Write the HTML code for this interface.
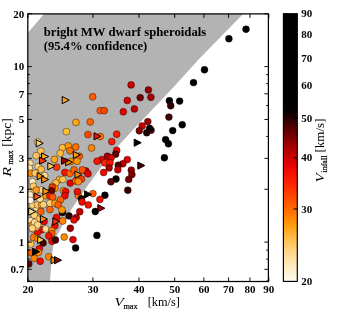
<!DOCTYPE html><html><head><meta charset="utf-8"><style>html,body{margin:0;padding:0;background:#fff;overflow:hidden}svg{display:block;will-change:transform;opacity:0.9999}text{font-family:"Liberation Serif",serif}</style></head><body>
<svg width="361" height="315" viewBox="0 0 361 315">
<rect width="361" height="315" fill="#fff"/>
<path d="M28.0,281.5 L28.0,32.7 L44.0,14.0 L243.0,14.0 L198.1,60.0 L173.2,87.4 L150.0,112.0 L131.2,131.7 L119.5,144.6 L113.1,152.4 L100.0,168.7 L92.5,179.0 L88.0,185.0 L80.0,196.8 L71.7,208.7 L66.8,217.5 L60.0,230.0 L56.5,236.0 L54.0,241.0 L52.1,254.0 L51.0,268.0 L50.0,281.5 Z" fill="#b3b3b3"/>
<clipPath id="cp"><rect x="27.8" y="13.9" width="240.59999999999997" height="267.6"/></clipPath><g clip-path="url(#cp)">
<circle cx="246" cy="29.2" r="3.45" fill="#000000" stroke="#000" stroke-width="0.4"/>
<circle cx="228.9" cy="38.7" r="3.45" fill="#000000" stroke="#000" stroke-width="0.4"/>
<circle cx="204.5" cy="69.8" r="3.45" fill="#000000" stroke="#000" stroke-width="0.4"/>
<circle cx="193.5" cy="82.6" r="3.45" fill="#000000" stroke="#000" stroke-width="0.4"/>
<circle cx="179.6" cy="101.1" r="3.45" fill="#000000" stroke="#000" stroke-width="0.4"/>
<circle cx="169.4" cy="100.8" r="3.45" fill="#000000" stroke="#000" stroke-width="0.4"/>
<circle cx="170.7" cy="105.8" r="3.45" fill="#320000" stroke="#000" stroke-width="0.4"/>
<circle cx="168.9" cy="117.1" r="3.45" fill="#3c0000" stroke="#000" stroke-width="0.4"/>
<circle cx="182.2" cy="124.7" r="3.45" fill="#000000" stroke="#000" stroke-width="0.4"/>
<circle cx="172.7" cy="130.6" r="3.45" fill="#000000" stroke="#000" stroke-width="0.4"/>
<circle cx="165.6" cy="139.6" r="3.45" fill="#000000" stroke="#000" stroke-width="0.4"/>
<circle cx="168.4" cy="143.8" r="3.45" fill="#000000" stroke="#000" stroke-width="0.4"/>
<circle cx="164.4" cy="157.8" r="3.45" fill="#000000" stroke="#000" stroke-width="0.4"/>
<circle cx="131.1" cy="84.9" r="3.45" fill="#c80000" stroke="#000" stroke-width="0.4"/>
<circle cx="148.4" cy="90" r="3.45" fill="#960000" stroke="#000" stroke-width="0.4"/>
<circle cx="140.2" cy="97.6" r="3.45" fill="#6e0000" stroke="#000" stroke-width="0.4"/>
<circle cx="150.9" cy="97.3" r="3.45" fill="#aa0000" stroke="#000" stroke-width="0.4"/>
<circle cx="127.3" cy="100.4" r="3.45" fill="#d70000" stroke="#000" stroke-width="0.4"/>
<circle cx="134.4" cy="108.9" r="3.45" fill="#be0000" stroke="#000" stroke-width="0.4"/>
<circle cx="123.3" cy="111.8" r="3.45" fill="#eb0000" stroke="#000" stroke-width="0.4"/>
<circle cx="147.8" cy="121.6" r="3.45" fill="#960000" stroke="#000" stroke-width="0.4"/>
<circle cx="142.2" cy="126" r="3.45" fill="#c80000" stroke="#000" stroke-width="0.4"/>
<circle cx="139.3" cy="130.8" r="3.45" fill="#820000" stroke="#000" stroke-width="0.4"/>
<circle cx="151.1" cy="130.2" r="3.45" fill="#640000" stroke="#000" stroke-width="0.4"/>
<circle cx="149.6" cy="128.4" r="3.45" fill="#000000" stroke="#000" stroke-width="0.4"/>
<circle cx="146.7" cy="132.7" r="3.45" fill="#1e0000" stroke="#000" stroke-width="0.4"/>
<circle cx="116.7" cy="134.2" r="3.45" fill="#f51e00" stroke="#000" stroke-width="0.4"/>
<circle cx="111.8" cy="141.6" r="3.45" fill="#fa1e00" stroke="#000" stroke-width="0.4"/>
<circle cx="116.7" cy="150.4" r="3.45" fill="#eb0a00" stroke="#000" stroke-width="0.4"/>
<circle cx="115.6" cy="154.2" r="3.45" fill="#5a0000" stroke="#000" stroke-width="0.4"/>
<circle cx="107.4" cy="156.2" r="3.45" fill="#aa0000" stroke="#000" stroke-width="0.4"/>
<circle cx="111.1" cy="157.8" r="3.45" fill="#dc0000" stroke="#000" stroke-width="0.4"/>
<circle cx="127.3" cy="159.6" r="3.45" fill="#e10000" stroke="#000" stroke-width="0.4"/>
<circle cx="101.6" cy="159.6" r="3.45" fill="#e10000" stroke="#000" stroke-width="0.4"/>
<circle cx="97.1" cy="161.2" r="3.45" fill="#fa1400" stroke="#000" stroke-width="0.4"/>
<circle cx="104.9" cy="162.9" r="3.45" fill="#fa2800" stroke="#000" stroke-width="0.4"/>
<circle cx="110" cy="162.9" r="3.45" fill="#fa1400" stroke="#000" stroke-width="0.4"/>
<circle cx="122.9" cy="163.8" r="3.45" fill="#be0000" stroke="#000" stroke-width="0.4"/>
<circle cx="118.3" cy="165.2" r="3.45" fill="#500000" stroke="#000" stroke-width="0.4"/>
<circle cx="109.1" cy="167.9" r="3.45" fill="#aa0000" stroke="#000" stroke-width="0.4"/>
<circle cx="117.8" cy="169.8" r="3.45" fill="#c80000" stroke="#000" stroke-width="0.4"/>
<circle cx="131.3" cy="170.2" r="3.45" fill="#960000" stroke="#000" stroke-width="0.4"/>
<circle cx="131.9" cy="174.6" r="3.45" fill="#820000" stroke="#000" stroke-width="0.4"/>
<circle cx="103.6" cy="172.5" r="3.45" fill="#f00a00" stroke="#000" stroke-width="0.4"/>
<circle cx="116" cy="179" r="3.45" fill="#000000" stroke="#000" stroke-width="0.4"/>
<circle cx="128.7" cy="179.4" r="3.45" fill="#780000" stroke="#000" stroke-width="0.4"/>
<circle cx="110.9" cy="181.8" r="3.45" fill="#5a0000" stroke="#000" stroke-width="0.4"/>
<circle cx="127.8" cy="190.2" r="3.45" fill="#3c0000" stroke="#000" stroke-width="0.4"/>
<circle cx="88" cy="134.6" r="3.45" fill="#ff4600" stroke="#000" stroke-width="0.4"/>
<circle cx="100.2" cy="136.5" r="3.45" fill="#ff6e00" stroke="#000" stroke-width="0.4"/>
<circle cx="91.6" cy="147.9" r="3.45" fill="#ff8200" stroke="#000" stroke-width="0.4"/>
<circle cx="85.8" cy="170.9" r="3.45" fill="#be0000" stroke="#000" stroke-width="0.4"/>
<circle cx="88" cy="173.7" r="3.45" fill="#e60000" stroke="#000" stroke-width="0.4"/>
<circle cx="92.7" cy="96.8" r="3.45" fill="#ff5a00" stroke="#000" stroke-width="0.4"/>
<circle cx="100.2" cy="110.6" r="3.45" fill="#ff5500" stroke="#000" stroke-width="0.4"/>
<circle cx="104.2" cy="110.6" r="3.45" fill="#fa4600" stroke="#000" stroke-width="0.4"/>
<circle cx="75.9" cy="122.4" r="3.45" fill="#ffa514" stroke="#000" stroke-width="0.4"/>
<circle cx="90.2" cy="121.9" r="3.45" fill="#ff6400" stroke="#000" stroke-width="0.4"/>
<circle cx="66.4" cy="131.6" r="3.45" fill="#ffbe32" stroke="#000" stroke-width="0.4"/>
<circle cx="37.5" cy="141.8" r="3.45" fill="#ffd680" stroke="#000" stroke-width="0.4"/>
<circle cx="40.9" cy="151.1" r="3.45" fill="#ffc350" stroke="#000" stroke-width="0.4"/>
<circle cx="36.2" cy="155.7" r="3.45" fill="#ffc85a" stroke="#000" stroke-width="0.4"/>
<circle cx="30" cy="163.2" r="3.45" fill="#ffdb94" stroke="#000" stroke-width="0.4"/>
<circle cx="29.2" cy="168.2" r="3.45" fill="#ffe5b2" stroke="#000" stroke-width="0.4"/>
<circle cx="38.3" cy="166.6" r="3.45" fill="#ffd680" stroke="#000" stroke-width="0.4"/>
<circle cx="41.1" cy="169.4" r="3.45" fill="#ffbe46" stroke="#000" stroke-width="0.4"/>
<circle cx="56.6" cy="167.1" r="3.45" fill="#ff3200" stroke="#000" stroke-width="0.4"/>
<circle cx="54.4" cy="159.4" r="3.45" fill="#ffa514" stroke="#000" stroke-width="0.4"/>
<circle cx="62.4" cy="147.6" r="3.45" fill="#ffb93c" stroke="#000" stroke-width="0.4"/>
<circle cx="68.3" cy="145.9" r="3.45" fill="#ff9600" stroke="#000" stroke-width="0.4"/>
<circle cx="75.7" cy="147" r="3.45" fill="#ff6e00" stroke="#000" stroke-width="0.4"/>
<circle cx="69.9" cy="150.8" r="3.45" fill="#ff6e00" stroke="#000" stroke-width="0.4"/>
<circle cx="60.2" cy="153.3" r="3.45" fill="#ffbe3c" stroke="#000" stroke-width="0.4"/>
<circle cx="79.2" cy="156.2" r="3.45" fill="#ff5a00" stroke="#000" stroke-width="0.4"/>
<circle cx="70.7" cy="161.6" r="3.45" fill="#ff9600" stroke="#000" stroke-width="0.4"/>
<circle cx="77" cy="161.2" r="3.45" fill="#ff9600" stroke="#000" stroke-width="0.4"/>
<circle cx="30.8" cy="173.2" r="3.45" fill="#ff8c00" stroke="#000" stroke-width="0.4"/>
<circle cx="35.3" cy="173.2" r="3.45" fill="#ffc864" stroke="#000" stroke-width="0.4"/>
<circle cx="44.6" cy="175.7" r="3.45" fill="#ffdb94" stroke="#000" stroke-width="0.4"/>
<circle cx="32.5" cy="181.8" r="3.45" fill="#ffeabc" stroke="#000" stroke-width="0.4"/>
<circle cx="33.3" cy="186.2" r="3.45" fill="#ffc864" stroke="#000" stroke-width="0.4"/>
<circle cx="64.9" cy="172.4" r="3.45" fill="#fa1400" stroke="#000" stroke-width="0.4"/>
<circle cx="69.9" cy="173.5" r="3.45" fill="#ff6400" stroke="#000" stroke-width="0.4"/>
<circle cx="74" cy="169.9" r="3.45" fill="#ff6400" stroke="#000" stroke-width="0.4"/>
<circle cx="82.3" cy="169.9" r="3.45" fill="#ff5000" stroke="#000" stroke-width="0.4"/>
<circle cx="59.4" cy="179.5" r="3.45" fill="#ffaa28" stroke="#000" stroke-width="0.4"/>
<circle cx="62.9" cy="179.5" r="3.45" fill="#ffc350" stroke="#000" stroke-width="0.4"/>
<circle cx="55.7" cy="183" r="3.45" fill="#ffbe46" stroke="#000" stroke-width="0.4"/>
<circle cx="70.3" cy="183.1" r="3.45" fill="#e10000" stroke="#000" stroke-width="0.4"/>
<circle cx="75.7" cy="180.9" r="3.45" fill="#ff5a00" stroke="#000" stroke-width="0.4"/>
<circle cx="81.5" cy="179" r="3.45" fill="#fa3c00" stroke="#000" stroke-width="0.4"/>
<circle cx="52.4" cy="186.5" r="3.45" fill="#ff8c00" stroke="#000" stroke-width="0.4"/>
<circle cx="78.3" cy="181.6" r="3.45" fill="#ff8c00" stroke="#000" stroke-width="0.4"/>
<circle cx="54.9" cy="188.3" r="3.45" fill="#ff9600" stroke="#000" stroke-width="0.4"/>
<circle cx="52.4" cy="187.5" r="3.45" fill="#fa3c00" stroke="#000" stroke-width="0.4"/>
<circle cx="51.6" cy="190.8" r="3.45" fill="#6e0000" stroke="#000" stroke-width="0.4"/>
<circle cx="63.5" cy="190.8" r="3.45" fill="#ff8c00" stroke="#000" stroke-width="0.4"/>
<circle cx="65.7" cy="191.6" r="3.45" fill="#f00a00" stroke="#000" stroke-width="0.4"/>
<circle cx="64.9" cy="195.8" r="3.45" fill="#eb0a00" stroke="#000" stroke-width="0.4"/>
<circle cx="78.2" cy="195.3" r="3.45" fill="#ff7800" stroke="#000" stroke-width="0.4"/>
<circle cx="77.4" cy="191.6" r="3.45" fill="#f00f00" stroke="#000" stroke-width="0.4"/>
<circle cx="81.4" cy="198.8" r="3.45" fill="#140000" stroke="#000" stroke-width="0.4"/>
<circle cx="82" cy="202" r="3.45" fill="#f00a00" stroke="#000" stroke-width="0.4"/>
<circle cx="30.8" cy="192.5" r="3.45" fill="#ffe09e" stroke="#000" stroke-width="0.4"/>
<circle cx="35" cy="191.6" r="3.45" fill="#ffdb94" stroke="#000" stroke-width="0.4"/>
<circle cx="41.6" cy="190" r="3.45" fill="#ffdb94" stroke="#000" stroke-width="0.4"/>
<circle cx="45.8" cy="195.8" r="3.45" fill="#ff9600" stroke="#000" stroke-width="0.4"/>
<circle cx="49.9" cy="196.1" r="3.45" fill="#f51e00" stroke="#000" stroke-width="0.4"/>
<circle cx="52.7" cy="197.1" r="3.45" fill="#ff5a00" stroke="#000" stroke-width="0.4"/>
<circle cx="60.4" cy="199.9" r="3.45" fill="#ff6400" stroke="#000" stroke-width="0.4"/>
<circle cx="49.9" cy="203.3" r="3.45" fill="#ffd176" stroke="#000" stroke-width="0.4"/>
<circle cx="54.9" cy="203.3" r="3.45" fill="#ff9614" stroke="#000" stroke-width="0.4"/>
<circle cx="58.2" cy="204.9" r="3.45" fill="#ff5a00" stroke="#000" stroke-width="0.4"/>
<circle cx="36.2" cy="207.5" r="3.45" fill="#ffe5b2" stroke="#000" stroke-width="0.4"/>
<circle cx="32.5" cy="204.9" r="3.45" fill="#ffd278" stroke="#000" stroke-width="0.4"/>
<circle cx="37.5" cy="204.9" r="3.45" fill="#ffc864" stroke="#000" stroke-width="0.4"/>
<circle cx="41.6" cy="204.9" r="3.45" fill="#ffaa28" stroke="#000" stroke-width="0.4"/>
<circle cx="49.9" cy="209.6" r="3.45" fill="#ff6400" stroke="#000" stroke-width="0.4"/>
<circle cx="40.8" cy="211.6" r="3.45" fill="#ff6400" stroke="#000" stroke-width="0.4"/>
<circle cx="62.4" cy="212.4" r="3.45" fill="#000000" stroke="#000" stroke-width="0.4"/>
<circle cx="61.9" cy="209.9" r="3.45" fill="#ff9600" stroke="#000" stroke-width="0.4"/>
<circle cx="69" cy="215.9" r="3.45" fill="#280000" stroke="#000" stroke-width="0.4"/>
<circle cx="79.8" cy="211.7" r="3.45" fill="#c80000" stroke="#000" stroke-width="0.4"/>
<circle cx="76.2" cy="217.6" r="3.45" fill="#aa0000" stroke="#000" stroke-width="0.4"/>
<circle cx="74" cy="219.9" r="3.45" fill="#e60a00" stroke="#000" stroke-width="0.4"/>
<circle cx="44.1" cy="221.5" r="3.45" fill="#e60000" stroke="#000" stroke-width="0.4"/>
<circle cx="56.6" cy="217.4" r="3.45" fill="#e60a00" stroke="#000" stroke-width="0.4"/>
<circle cx="62.7" cy="221" r="3.45" fill="#ff8200" stroke="#000" stroke-width="0.4"/>
<circle cx="33.3" cy="218.2" r="3.45" fill="#ffe09e" stroke="#000" stroke-width="0.4"/>
<circle cx="30.8" cy="220.7" r="3.45" fill="#ffe5b2" stroke="#000" stroke-width="0.4"/>
<circle cx="37.5" cy="219" r="3.45" fill="#ffc864" stroke="#000" stroke-width="0.4"/>
<circle cx="35" cy="223.2" r="3.45" fill="#ffd176" stroke="#000" stroke-width="0.4"/>
<circle cx="32.5" cy="224.8" r="3.45" fill="#ff9600" stroke="#000" stroke-width="0.4"/>
<circle cx="38.3" cy="229" r="3.45" fill="#f00a00" stroke="#000" stroke-width="0.4"/>
<circle cx="41.6" cy="229.8" r="3.45" fill="#eb0a00" stroke="#000" stroke-width="0.4"/>
<circle cx="45.8" cy="229" r="3.45" fill="#ffdb94" stroke="#000" stroke-width="0.4"/>
<circle cx="54.9" cy="225.8" r="3.45" fill="#eb0a00" stroke="#000" stroke-width="0.4"/>
<circle cx="70.3" cy="228.3" r="3.45" fill="#9b0000" stroke="#000" stroke-width="0.4"/>
<circle cx="51.6" cy="230.7" r="3.45" fill="#ff8c00" stroke="#000" stroke-width="0.4"/>
<circle cx="92.9" cy="193.6" r="3.45" fill="#ff5a00" stroke="#000" stroke-width="0.4"/>
<circle cx="104.9" cy="195.3" r="3.45" fill="#000000" stroke="#000" stroke-width="0.4"/>
<circle cx="99.9" cy="199.4" r="3.45" fill="#f50f00" stroke="#000" stroke-width="0.4"/>
<circle cx="88.3" cy="204.9" r="3.45" fill="#f51400" stroke="#000" stroke-width="0.4"/>
<circle cx="95.3" cy="211.5" r="3.45" fill="#000000" stroke="#000" stroke-width="0.4"/>
<circle cx="64.2" cy="237" r="3.45" fill="#ff8c00" stroke="#000" stroke-width="0.4"/>
<circle cx="73" cy="239.6" r="3.45" fill="#e10000" stroke="#000" stroke-width="0.4"/>
<circle cx="75.6" cy="247.9" r="3.45" fill="#000000" stroke="#000" stroke-width="0.4"/>
<circle cx="51.7" cy="233.6" r="3.45" fill="#ff5a00" stroke="#000" stroke-width="0.4"/>
<circle cx="48.8" cy="236" r="3.45" fill="#f01400" stroke="#000" stroke-width="0.4"/>
<circle cx="52" cy="241.3" r="3.45" fill="#eb0a00" stroke="#000" stroke-width="0.4"/>
<circle cx="55.5" cy="240" r="3.45" fill="#460000" stroke="#000" stroke-width="0.4"/>
<circle cx="37.4" cy="232.6" r="3.45" fill="#f00a00" stroke="#000" stroke-width="0.4"/>
<circle cx="32.6" cy="228.8" r="3.45" fill="#ffc85a" stroke="#000" stroke-width="0.4"/>
<circle cx="36.4" cy="226.9" r="3.45" fill="#ffdb94" stroke="#000" stroke-width="0.4"/>
<circle cx="33.6" cy="237.4" r="3.45" fill="#ff8200" stroke="#000" stroke-width="0.4"/>
<circle cx="43.1" cy="243.1" r="3.45" fill="#460000" stroke="#000" stroke-width="0.4"/>
<circle cx="30.7" cy="244" r="3.45" fill="#ffc85a" stroke="#000" stroke-width="0.4"/>
<circle cx="39.3" cy="248.8" r="3.45" fill="#f00a00" stroke="#000" stroke-width="0.4"/>
<circle cx="30.3" cy="252.6" r="3.45" fill="#ff5a00" stroke="#000" stroke-width="0.4"/>
<circle cx="34.1" cy="258.3" r="3.45" fill="#ff8200" stroke="#000" stroke-width="0.4"/>
<circle cx="40.2" cy="261.2" r="3.45" fill="#f00a00" stroke="#000" stroke-width="0.4"/>
<circle cx="48.8" cy="256.8" r="3.45" fill="#ff8200" stroke="#000" stroke-width="0.4"/>
<circle cx="28.8" cy="264" r="3.45" fill="#640000" stroke="#000" stroke-width="0.4"/>
<circle cx="96.9" cy="235.4" r="3.45" fill="#000000" stroke="#000" stroke-width="0.4"/>
<circle cx="36.2" cy="190.1" r="3.45" fill="#ff9614" stroke="#000" stroke-width="0.4"/>
<circle cx="29.9" cy="195" r="3.45" fill="#ffefcb" stroke="#000" stroke-width="0.4"/>
<circle cx="30.3" cy="200.3" r="3.45" fill="#fff5e6" stroke="#000" stroke-width="0.4"/>
<circle cx="40" cy="198.9" r="3.45" fill="#ffdb94" stroke="#000" stroke-width="0.4"/>
<circle cx="43.4" cy="204.6" r="3.45" fill="#ffd176" stroke="#000" stroke-width="0.4"/>
<circle cx="34.2" cy="215.2" r="3.45" fill="#ffd176" stroke="#000" stroke-width="0.4"/>
<circle cx="34.7" cy="222.4" r="3.45" fill="#ffdb94" stroke="#000" stroke-width="0.4"/>
<circle cx="37.6" cy="224.9" r="3.45" fill="#ffd680" stroke="#000" stroke-width="0.4"/>
<circle cx="32.3" cy="228.3" r="3.45" fill="#ffd176" stroke="#000" stroke-width="0.4"/>
<circle cx="37.8" cy="238.6" r="3.45" fill="#ff8c00" stroke="#000" stroke-width="0.4"/>
<circle cx="38.5" cy="252.5" r="3.45" fill="#ff8c00" stroke="#000" stroke-width="0.4"/>
<path d="M134.2,139.1 L141.2,142.7 L134.2,146.3 Z" fill="#000000" stroke="#000" stroke-width="1"/>
<path d="M137.8,162.0 L144.8,165.6 L137.8,169.2 Z" fill="#460000" stroke="#000" stroke-width="1"/>
<path d="M94.0,132.7 L101.0,136.3 L94.0,139.9 Z" fill="#fa1400" stroke="#000" stroke-width="1"/>
<path d="M62.2,96.5 L69.2,100.1 L62.2,103.7 Z" fill="#ffa514" stroke="#000" stroke-width="1"/>
<path d="M36.2,139.7 L43.2,143.3 L36.2,146.9 Z" fill="#ffd176" stroke="#000" stroke-width="1"/>
<path d="M41.6,152.9 L48.6,156.5 L41.6,160.1 Z" fill="#ffaa1e" stroke="#000" stroke-width="1"/>
<path d="M39.5,157.1 L46.5,160.7 L39.5,164.3 Z" fill="#f53200" stroke="#000" stroke-width="1"/>
<path d="M47.8,162.6 L54.8,166.2 L47.8,169.8 Z" fill="#ffc85a" stroke="#000" stroke-width="1"/>
<path d="M73.3,151.3 L80.3,154.9 L73.3,158.5 Z" fill="#ff9600" stroke="#000" stroke-width="1"/>
<path d="M65.6,158.6 L72.6,162.2 L65.6,165.8 Z" fill="#ff8c00" stroke="#000" stroke-width="1"/>
<path d="M61.6,157.1 L68.6,160.7 L61.6,164.3 Z" fill="#aa0000" stroke="#000" stroke-width="1"/>
<path d="M37.1,172.6 L44.1,176.2 L37.1,179.8 Z" fill="#ff9600" stroke="#000" stroke-width="1"/>
<path d="M41.7,175.9 L48.7,179.5 L41.7,183.1 Z" fill="#ff8c00" stroke="#000" stroke-width="1"/>
<path d="M74.9,170.9 L81.9,174.5 L74.9,178.1 Z" fill="#ff8c00" stroke="#000" stroke-width="1"/>
<path d="M42.9,187.7 L49.9,191.3 L42.9,194.9 Z" fill="#ff9600" stroke="#000" stroke-width="1"/>
<path d="M34.1,193.0 L41.1,196.6 L34.1,200.2 Z" fill="#ff5000" stroke="#000" stroke-width="1"/>
<path d="M28.7,208.0 L35.7,211.6 L28.7,215.2 Z" fill="#ffdb8a" stroke="#000" stroke-width="1"/>
<path d="M40.4,215.4 L47.4,219 L40.4,222.6 Z" fill="#ff8c00" stroke="#000" stroke-width="1"/>
<path d="M52.8,217.9 L59.8,221.5 L52.8,225.1 Z" fill="#fa3200" stroke="#000" stroke-width="1"/>
<path d="M37.7,236.3 L44.7,239.9 L37.7,243.5 Z" fill="#ffc85a" stroke="#000" stroke-width="1"/>
<path d="M32.6,248.1 L39.6,251.7 L32.6,255.3 Z" fill="#000000" stroke="#000" stroke-width="1"/>
<path d="M51.1,256.6 L58.1,260.2 L51.1,263.8 Z" fill="#ff9600" stroke="#000" stroke-width="1"/>
<path d="M54.5,256.6 L61.5,260.2 L54.5,263.8 Z" fill="#8c0000" stroke="#000" stroke-width="1"/>
<path d="M84.6,190.8 L91.6,194.4 L84.6,198.0 Z" fill="#000000" stroke="#000" stroke-width="1"/>
<path d="M97.8,204.6 L104.8,208.2 L97.8,211.8 Z" fill="#aa0000" stroke="#000" stroke-width="1"/>
</g>
<rect x="27.8" y="13.9" width="240.59999999999997" height="267.6" fill="none" stroke="#000" stroke-width="1.25"/>
<path d="M28.00,281.5 v-4 M28.00,13.9 v4 M92.91,281.5 v-4 M92.91,13.9 v4 M138.97,281.5 v-4 M138.97,13.9 v4 M174.70,281.5 v-4 M174.70,13.9 v4 M203.89,281.5 v-4 M203.89,13.9 v4 M228.57,281.5 v-4 M228.57,13.9 v4 M249.94,281.5 v-4 M249.94,13.9 v4 M268.80,281.5 v-4 M268.80,13.9 v4 M27.8,281.03 h2.2 M268.4,281.03 h-2.2 M27.8,269.29 h4 M268.4,269.29 h-4 M27.8,259.11 h2.2 M268.4,259.11 h-2.2 M27.8,250.13 h2.2 M268.4,250.13 h-2.2 M27.8,242.10 h4 M268.4,242.10 h-4 M27.8,189.27 h4 M268.4,189.27 h-4 M27.8,158.37 h4 M268.4,158.37 h-4 M27.8,136.44 h2.2 M268.4,136.44 h-2.2 M27.8,119.43 h4 M268.4,119.43 h-4 M27.8,105.53 h2.2 M268.4,105.53 h-2.2 M27.8,93.79 h4 M268.4,93.79 h-4 M27.8,83.61 h2.2 M268.4,83.61 h-2.2 M27.8,74.63 h2.2 M268.4,74.63 h-2.2 M27.8,66.60 h4 M268.4,66.60 h-4 M27.8,13.77 h4 M268.4,13.77 h-4" stroke="#000" stroke-width="0.95" fill="none"/>
<text x="28.0" y="293.4" font-size="11" font-weight="bold" text-anchor="middle">20</text>
<text x="92.9" y="293.4" font-size="11" font-weight="bold" text-anchor="middle">30</text>
<text x="139.0" y="293.4" font-size="11" font-weight="bold" text-anchor="middle">40</text>
<text x="174.7" y="293.4" font-size="11" font-weight="bold" text-anchor="middle">50</text>
<text x="203.9" y="293.4" font-size="11" font-weight="bold" text-anchor="middle">60</text>
<text x="228.6" y="293.4" font-size="11" font-weight="bold" text-anchor="middle">70</text>
<text x="249.9" y="293.4" font-size="11" font-weight="bold" text-anchor="middle">80</text>
<text x="268.8" y="293.4" font-size="11" font-weight="bold" text-anchor="middle">90</text>
<text x="24.2" y="273.0" font-size="11" font-weight="bold" text-anchor="end">0.7</text>
<text x="24.2" y="245.8" font-size="11" font-weight="bold" text-anchor="end">1</text>
<text x="24.2" y="193.0" font-size="11" font-weight="bold" text-anchor="end">2</text>
<text x="24.2" y="162.1" font-size="11" font-weight="bold" text-anchor="end">3</text>
<text x="24.2" y="123.1" font-size="11" font-weight="bold" text-anchor="end">5</text>
<text x="24.2" y="97.5" font-size="11" font-weight="bold" text-anchor="end">7</text>
<text x="24.2" y="70.3" font-size="11" font-weight="bold" text-anchor="end">10</text>
<text x="24.2" y="17.5" font-size="11" font-weight="bold" text-anchor="end">20</text>
<text x="43.7" y="36.1" font-size="12.7" font-weight="bold" textLength="162.6" lengthAdjust="spacingAndGlyphs">bright MW dwarf spheroidals</text>
<text x="43.7" y="50.2" font-size="12.7" font-weight="bold" textLength="103.5" lengthAdjust="spacingAndGlyphs">(95.4% confidence)</text>
<text x="114.6" y="306.4" font-size="13.4" font-style="italic" textLength="9.2" lengthAdjust="spacingAndGlyphs">V</text><text x="123.4" y="308.6" font-size="8.4" textLength="14.3" lengthAdjust="spacingAndGlyphs" stroke="#000" stroke-width="0.2">max</text><text x="147.7" y="306.4" font-size="12.4" textLength="32.3" lengthAdjust="spacingAndGlyphs">[km/s]</text>
<g transform="translate(10.7,176.7) rotate(-90)"><text x="0" y="0" font-size="13.4" font-style="italic" textLength="9.8" lengthAdjust="spacingAndGlyphs">R</text><text x="12.2" y="2.2" font-size="8.8" textLength="14" lengthAdjust="spacingAndGlyphs" stroke="#000" stroke-width="0.25">max</text><text x="30" y="0" font-size="12.4" textLength="28.5" lengthAdjust="spacingAndGlyphs">[kpc]</text></g>
<g transform="translate(323.9,182) rotate(-90)"><text x="-0.4" y="0" font-size="13.4" font-style="italic" textLength="9.2" lengthAdjust="spacingAndGlyphs">V</text><text x="9.4" y="2.6" font-size="8.4" textLength="17" lengthAdjust="spacingAndGlyphs" stroke="#000" stroke-width="0.2">infall</text><text x="29.5" y="0" font-size="12.4" textLength="34" lengthAdjust="spacingAndGlyphs">[km/s]</text></g>
<defs><linearGradient id="cb" x1="0" y1="1" x2="0" y2="0">
<stop offset="0.0000" stop-color="rgb(255,252,240)"/>
<stop offset="0.0164" stop-color="rgb(255,247,226)"/>
<stop offset="0.0324" stop-color="rgb(255,242,212)"/>
<stop offset="0.0481" stop-color="rgb(255,237,198)"/>
<stop offset="0.0634" stop-color="rgb(255,232,185)"/>
<stop offset="0.0783" stop-color="rgb(255,226,170)"/>
<stop offset="0.0929" stop-color="rgb(255,221,155)"/>
<stop offset="0.1072" stop-color="rgb(255,215,140)"/>
<stop offset="0.1212" stop-color="rgb(255,208,123)"/>
<stop offset="0.1349" stop-color="rgb(255,202,106)"/>
<stop offset="0.1484" stop-color="rgb(255,195,90)"/>
<stop offset="0.1615" stop-color="rgb(255,187,73)"/>
<stop offset="0.1744" stop-color="rgb(255,179,57)"/>
<stop offset="0.1871" stop-color="rgb(255,171,41)"/>
<stop offset="0.1995" stop-color="rgb(255,163,25)"/>
<stop offset="0.2117" stop-color="rgb(255,155,10)"/>
<stop offset="0.2237" stop-color="rgb(255,145,7)"/>
<stop offset="0.2355" stop-color="rgb(255,135,3)"/>
<stop offset="0.2470" stop-color="rgb(255,125,0)"/>
<stop offset="0.2584" stop-color="rgb(255,115,0)"/>
<stop offset="0.2696" stop-color="rgb(255,105,0)"/>
<stop offset="0.2806" stop-color="rgb(255,97,0)"/>
<stop offset="0.2914" stop-color="rgb(255,88,0)"/>
<stop offset="0.3020" stop-color="rgb(255,80,0)"/>
<stop offset="0.3125" stop-color="rgb(255,72,0)"/>
<stop offset="0.3228" stop-color="rgb(254,65,0)"/>
<stop offset="0.3329" stop-color="rgb(254,58,0)"/>
<stop offset="0.3429" stop-color="rgb(253,52,0)"/>
<stop offset="0.3528" stop-color="rgb(253,45,0)"/>
<stop offset="0.3625" stop-color="rgb(252,38,0)"/>
<stop offset="0.3721" stop-color="rgb(252,32,0)"/>
<stop offset="0.3815" stop-color="rgb(249,27,0)"/>
<stop offset="0.3908" stop-color="rgb(246,23,0)"/>
<stop offset="0.4000" stop-color="rgb(243,18,0)"/>
<stop offset="0.4090" stop-color="rgb(241,14,0)"/>
<stop offset="0.4179" stop-color="rgb(238,9,0)"/>
<stop offset="0.4267" stop-color="rgb(235,5,0)"/>
<stop offset="0.4354" stop-color="rgb(228,4,0)"/>
<stop offset="0.4440" stop-color="rgb(221,2,0)"/>
<stop offset="0.4525" stop-color="rgb(215,1,0)"/>
<stop offset="0.4608" stop-color="rgb(208,0,0)"/>
<stop offset="0.4691" stop-color="rgb(200,0,0)"/>
<stop offset="0.4773" stop-color="rgb(192,0,0)"/>
<stop offset="0.4853" stop-color="rgb(184,0,0)"/>
<stop offset="0.4933" stop-color="rgb(176,0,0)"/>
<stop offset="0.5012" stop-color="rgb(168,0,0)"/>
<stop offset="0.5089" stop-color="rgb(160,0,0)"/>
<stop offset="0.5166" stop-color="rgb(151,0,0)"/>
<stop offset="0.5242" stop-color="rgb(141,0,0)"/>
<stop offset="0.5317" stop-color="rgb(132,0,0)"/>
<stop offset="0.5392" stop-color="rgb(123,0,0)"/>
<stop offset="0.5465" stop-color="rgb(114,0,0)"/>
<stop offset="0.5538" stop-color="rgb(105,0,0)"/>
<stop offset="0.5610" stop-color="rgb(97,0,0)"/>
<stop offset="0.5681" stop-color="rgb(90,0,0)"/>
<stop offset="0.5751" stop-color="rgb(82,0,0)"/>
<stop offset="0.5821" stop-color="rgb(75,0,0)"/>
<stop offset="0.5890" stop-color="rgb(66,0,0)"/>
<stop offset="0.5958" stop-color="rgb(57,0,0)"/>
<stop offset="0.6025" stop-color="rgb(49,0,0)"/>
<stop offset="0.6092" stop-color="rgb(40,0,0)"/>
<stop offset="0.6158" stop-color="rgb(32,0,0)"/>
<stop offset="0.6224" stop-color="rgb(24,0,0)"/>
<stop offset="0.6289" stop-color="rgb(16,0,0)"/>
<stop offset="0.6353" stop-color="rgb(8,0,0)"/>
<stop offset="0.6416" stop-color="rgb(6,0,0)"/>
<stop offset="0.6479" stop-color="rgb(4,0,0)"/>
<stop offset="0.6542" stop-color="rgb(2,0,0)"/>
<stop offset="0.6604" stop-color="rgb(0,0,0)"/>
<stop offset="0.6665" stop-color="rgb(0,0,0)"/>
<stop offset="0.6726" stop-color="rgb(0,0,0)"/>
<stop offset="0.6786" stop-color="rgb(0,0,0)"/>
<stop offset="0.6846" stop-color="rgb(0,0,0)"/>
<stop offset="0.6905" stop-color="rgb(0,0,0)"/>
<stop offset="0.6963" stop-color="rgb(0,0,0)"/>
<stop offset="0.7021" stop-color="rgb(0,0,0)"/>
<stop offset="0.7079" stop-color="rgb(0,0,0)"/>
<stop offset="0.7136" stop-color="rgb(0,0,0)"/>
<stop offset="0.7192" stop-color="rgb(0,0,0)"/>
<stop offset="0.7249" stop-color="rgb(0,0,0)"/>
<stop offset="0.7304" stop-color="rgb(0,0,0)"/>
<stop offset="0.7359" stop-color="rgb(0,0,0)"/>
<stop offset="0.7414" stop-color="rgb(0,0,0)"/>
<stop offset="0.7468" stop-color="rgb(0,0,0)"/>
<stop offset="0.7522" stop-color="rgb(0,0,0)"/>
<stop offset="0.7576" stop-color="rgb(0,0,0)"/>
<stop offset="0.7629" stop-color="rgb(0,0,0)"/>
<stop offset="0.7681" stop-color="rgb(0,0,0)"/>
<stop offset="0.7733" stop-color="rgb(0,0,0)"/>
<stop offset="0.7785" stop-color="rgb(0,0,0)"/>
<stop offset="0.7836" stop-color="rgb(0,0,0)"/>
<stop offset="0.7887" stop-color="rgb(0,0,0)"/>
<stop offset="0.7938" stop-color="rgb(0,0,0)"/>
<stop offset="0.7988" stop-color="rgb(0,0,0)"/>
<stop offset="0.8038" stop-color="rgb(0,0,0)"/>
<stop offset="0.8087" stop-color="rgb(0,0,0)"/>
<stop offset="0.8136" stop-color="rgb(0,0,0)"/>
<stop offset="0.8185" stop-color="rgb(0,0,0)"/>
<stop offset="0.8233" stop-color="rgb(0,0,0)"/>
<stop offset="0.8281" stop-color="rgb(0,0,0)"/>
<stop offset="0.8329" stop-color="rgb(0,0,0)"/>
<stop offset="0.8376" stop-color="rgb(0,0,0)"/>
<stop offset="0.8423" stop-color="rgb(0,0,0)"/>
<stop offset="0.8470" stop-color="rgb(0,0,0)"/>
<stop offset="0.8516" stop-color="rgb(0,0,0)"/>
<stop offset="0.8562" stop-color="rgb(0,0,0)"/>
<stop offset="0.8608" stop-color="rgb(0,0,0)"/>
<stop offset="0.8653" stop-color="rgb(0,0,0)"/>
<stop offset="0.8699" stop-color="rgb(0,0,0)"/>
<stop offset="0.8743" stop-color="rgb(0,0,0)"/>
<stop offset="0.8788" stop-color="rgb(0,0,0)"/>
<stop offset="0.8832" stop-color="rgb(0,0,0)"/>
<stop offset="0.8876" stop-color="rgb(0,0,0)"/>
<stop offset="0.8919" stop-color="rgb(0,0,0)"/>
<stop offset="0.8963" stop-color="rgb(0,0,0)"/>
<stop offset="0.9006" stop-color="rgb(0,0,0)"/>
<stop offset="0.9049" stop-color="rgb(0,0,0)"/>
<stop offset="0.9091" stop-color="rgb(0,0,0)"/>
<stop offset="0.9133" stop-color="rgb(0,0,0)"/>
<stop offset="0.9175" stop-color="rgb(0,0,0)"/>
<stop offset="0.9217" stop-color="rgb(0,0,0)"/>
<stop offset="0.9258" stop-color="rgb(0,0,0)"/>
<stop offset="0.9300" stop-color="rgb(0,0,0)"/>
<stop offset="0.9340" stop-color="rgb(0,0,0)"/>
<stop offset="0.9381" stop-color="rgb(0,0,0)"/>
<stop offset="0.9421" stop-color="rgb(0,0,0)"/>
<stop offset="0.9462" stop-color="rgb(0,0,0)"/>
<stop offset="0.9502" stop-color="rgb(0,0,0)"/>
<stop offset="0.9541" stop-color="rgb(0,0,0)"/>
<stop offset="0.9581" stop-color="rgb(0,0,0)"/>
<stop offset="0.9620" stop-color="rgb(0,0,0)"/>
<stop offset="0.9659" stop-color="rgb(0,0,0)"/>
<stop offset="0.9698" stop-color="rgb(0,0,0)"/>
<stop offset="0.9736" stop-color="rgb(0,0,0)"/>
<stop offset="0.9775" stop-color="rgb(0,0,0)"/>
<stop offset="0.9813" stop-color="rgb(0,0,0)"/>
<stop offset="0.9851" stop-color="rgb(0,0,0)"/>
<stop offset="0.9888" stop-color="rgb(0,0,0)"/>
<stop offset="0.9926" stop-color="rgb(0,0,0)"/>
<stop offset="0.9963" stop-color="rgb(0,0,0)"/>
<stop offset="1.0000" stop-color="rgb(0,0,0)"/>
</linearGradient></defs>
<rect x="283.4" y="13.7" width="13.9" height="267.7" fill="url(#cb)" stroke="#000" stroke-width="1.15"/>
<path d="M297.3,209.03 h-3.8 M297.3,157.83 h-3.8 M297.3,118.12 h-3.8 M297.3,85.67 h-3.8 M297.3,58.23 h-3.8 M297.3,34.46 h-3.8" stroke="#000" stroke-width="1.1"/>
<text x="301.3" y="284.8" font-size="11" font-weight="bold">20</text>
<text x="301.3" y="212.6" font-size="11" font-weight="bold">30</text>
<text x="301.3" y="161.4" font-size="11" font-weight="bold">40</text>
<text x="301.3" y="121.7" font-size="11" font-weight="bold">50</text>
<text x="301.3" y="89.3" font-size="11" font-weight="bold">60</text>
<text x="301.3" y="61.8" font-size="11" font-weight="bold">70</text>
<text x="301.3" y="38.1" font-size="11" font-weight="bold">80</text>
<text x="301.3" y="17.1" font-size="11" font-weight="bold">90</text>
</svg></body></html>
